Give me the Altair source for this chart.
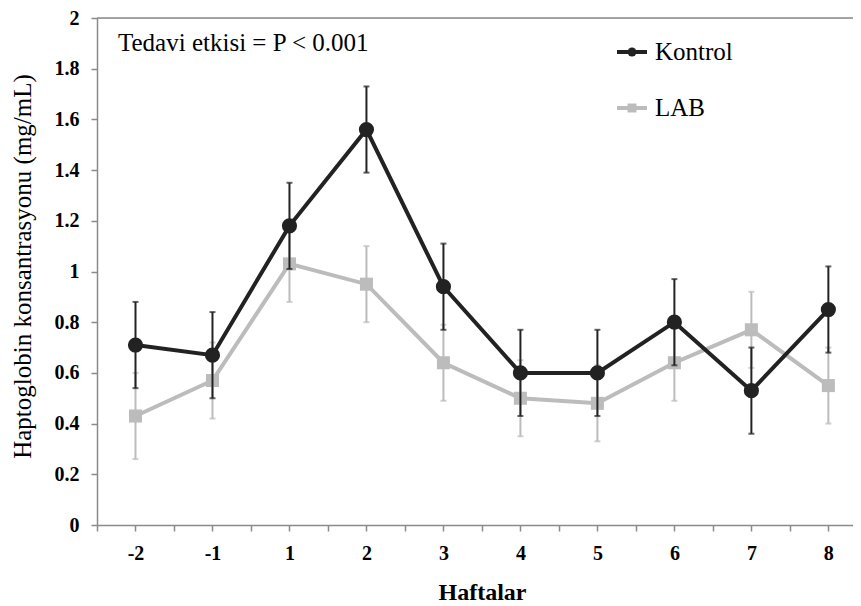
import json
import altair as alt
import pandas as pd

weeks = ["-2", "-1", "1", "2", "3", "4", "5", "6", "7", "8"]
kontrol = [0.71, 0.67, 1.18, 1.56, 0.94, 0.60, 0.60, 0.80, 0.53, 0.85]
kontrol_err = [0.17, 0.17, 0.17, 0.17, 0.17, 0.17, 0.17, 0.17, 0.17, 0.17]
lab = [0.43, 0.57, 1.03, 0.95, 0.64, 0.50, 0.48, 0.64, 0.77, 0.55]
lab_err = [0.17, 0.15, 0.15, 0.15, 0.15, 0.15, 0.15, 0.15, 0.15, 0.15]
series_names = ["Kontrol", "LAB"]
series_colors = ["#111111", "#a8a8a8"]
errbar_colors = ["#222222", "#bcbcbc"]
y_ticks = [0, 0.2, 0.4, 0.6, 0.8, 1.0, 1.2, 1.4, 1.6, 1.8, 2.0]
annotation = "Tedavi etkisi = P < 0.001"

rows = []
for name, vals, errs in (("Kontrol", kontrol, kontrol_err), ("LAB", lab, lab_err)):
    for i, (w, v, e) in enumerate(zip(weeks, vals, errs)):
        rows.append({"idx": i, "week": w, "series": name, "mean": v,
                     "lo": round(v - e, 3), "hi": round(v + e, 3)})
df = pd.DataFrame(rows)

FONT = "Liberation Serif"
AXIS_GRAY = "#8a8a8a"

x_tick_vals = [i / 2 for i in range(-1, 19)]
label_expr = ("datum.value % 1 == 0 ? " + json.dumps(weeks) +
              "[datum.value] : ''")

x_enc = alt.X("idx:Q",
              scale=alt.Scale(domain=[-0.5, 9.32], nice=False, zero=False),
              axis=alt.Axis(values=x_tick_vals, labelExpr=label_expr,
                            title="Haftalar", grid=False,
                            domainColor=AXIS_GRAY, domainWidth=1.5,
                            tickColor=AXIS_GRAY, tickWidth=1.5, tickSize=6,
                            labelFont=FONT, labelFontWeight="bold",
                            labelFontSize=20, labelColor="black",
                            labelPadding=12, labelFlush=False,
                            titleFont=FONT, titleFontWeight="bold",
                            titleFontSize=24, titleColor="black",
                            titleX=385, titleY=55, titleBaseline="top"))

y_scale = alt.Scale(domain=[0, 2], nice=False)
y_axis = alt.Axis(values=y_ticks, format=".1~f",
                  title="Haptoglobin konsantrasyonu (mg/mL)", grid=False,
                  domainColor=AXIS_GRAY, domainWidth=1.5,
                  tickColor=AXIS_GRAY, tickWidth=1.5, tickSize=6,
                  labelFont=FONT, labelFontWeight="bold", labelFontSize=20,
                  labelColor="black", labelPadding=12, labelFlush=False,
                  titleFont=FONT, titleFontWeight="normal", titleFontSize=25,
                  titleColor="black", titleAngle=-90, titleX=-67, titleY=248,
                  titleAlign="center", titleBaseline="alphabetic")

base = alt.Chart(df)
color_scale = alt.Scale(domain=series_names, range=series_colors)
err_scale = alt.Scale(domain=series_names, range=errbar_colors)


def series_layers(name, shape, size):
    src = base.transform_filter(alt.datum.series == name)
    col = alt.Color("series:N", scale=color_scale, legend=None)
    ecol = alt.Color("series:N", scale=err_scale, legend=None)
    bars = src.mark_rule(strokeWidth=2).encode(
        x=x_enc, y=alt.Y("lo:Q", scale=y_scale, axis=y_axis), y2="hi:Q", color=ecol)
    cap_lo = src.mark_tick(orient="horizontal", size=6, thickness=2).encode(
        x=x_enc, y=alt.Y("lo:Q", scale=y_scale, axis=y_axis), color=ecol)
    cap_hi = src.mark_tick(orient="horizontal", size=6, thickness=2).encode(
        x=x_enc, y=alt.Y("hi:Q", scale=y_scale, axis=y_axis), color=ecol)
    line = src.mark_line(strokeWidth=4).encode(
        x=x_enc, y=alt.Y("mean:Q", scale=y_scale, axis=y_axis), color=col)
    pts = src.mark_point(shape=shape, filled=True, size=size, opacity=1).encode(
        x=x_enc, y=alt.Y("mean:Q", scale=y_scale, axis=y_axis), color=col)
    return [bars, cap_lo, cap_hi, line, pts]


top_border = alt.Chart(pd.DataFrame({"v": [2]})).mark_rule(
    color=AXIS_GRAY, strokeWidth=1.5).encode(y=alt.Y("v:Q", scale=y_scale, axis=y_axis))

ann = alt.Chart(pd.DataFrame({"t": [annotation]})).mark_text(
    align="left", baseline="middle", font=FONT, fontSize=25, color="black"
).encode(x=alt.value(21), y=alt.value(25), text="t:N")

# legend
leg_df = pd.DataFrame({"series": series_names, "ly": [34, 90]})
leg_col = alt.Color("series:N", scale=color_scale, legend=None)
leg_line = alt.Chart(leg_df).mark_rule(strokeWidth=4).encode(
    x=alt.value(520), x2=alt.value(550), y=alt.Y("ly:Q", scale=None), color=leg_col)
leg_pts = alt.Chart(leg_df).mark_point(filled=True, size=80, opacity=1).encode(
    x=alt.value(535), y=alt.Y("ly:Q", scale=None), color=leg_col,
    shape=alt.Shape("series:N", scale=alt.Scale(domain=series_names,
                                                range=["circle", "square"]),
                    legend=None))
leg_txt = alt.Chart(leg_df).mark_text(
    align="left", baseline="middle", font=FONT, fontSize=25, color="black"
).encode(x=alt.value(558), y=alt.Y("ly:Q", scale=None), text="series:N")

layers = [top_border] + series_layers("LAB", "square", 170) + \
    series_layers("Kontrol", "circle", 230) + [ann, leg_line, leg_pts, leg_txt]

chart = alt.layer(*layers).properties(
    width=756, height=507,
    autosize=alt.AutoSizeParams(type="none"),
    padding={"left": 89, "top": 10, "right": 0, "bottom": 80},
).configure_view(stroke=None).configure(background="white")

chart.save("out.html", embed_options={"renderer": "svg", "actions": False})
